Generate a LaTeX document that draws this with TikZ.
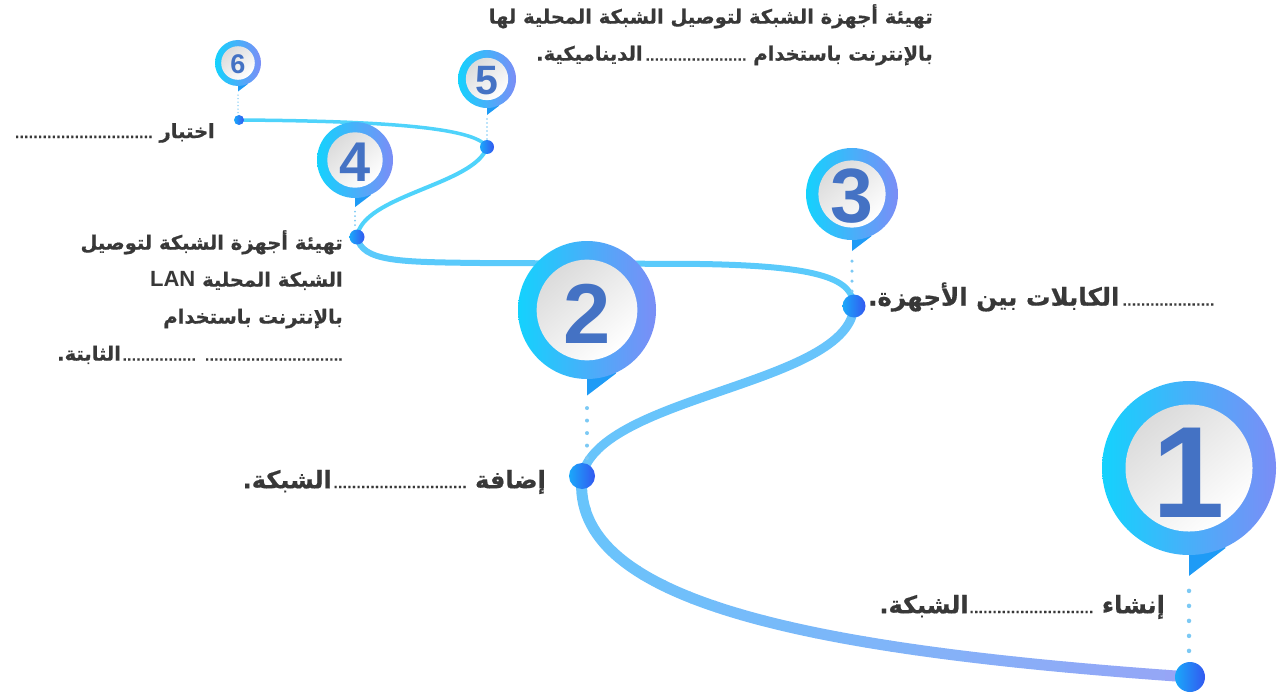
\documentclass[tikz,border=0pt]{standalone}
\usepackage{fontspec}
\setmainfont{Liberation Sans}
\newfontfamily\arabicfont{DejaVu Sans}[Script=Arabic, BoldFeatures={FakeBold=0.6}]
\TeXXeTstate=1
\usetikzlibrary{backgrounds}

\definecolor{ringL}{HTML}{14D2FD}
\definecolor{ringR}{HTML}{7B8DF6}
\definecolor{tailC}{HTML}{1E9BF6}
\definecolor{numC}{HTML}{4472C4}
\definecolor{dotL}{HTML}{1AA8FA}
\definecolor{dotR}{HTML}{3358F0}
\definecolor{pathA}{HTML}{4FD3FB}
\definecolor{pathB}{HTML}{5ACAFB}
\definecolor{pathC}{HTML}{68C4FB}
\definecolor{pathD}{HTML}{98A4F6}
\definecolor{lineC}{HTML}{7CC9F4}
\definecolor{txt}{HTML}{383838}

\newcommand\dts[1]{\hbox to #1{\fontsize{12}{12}\selectfont\leaders\hbox to 4.6pt{\hss.\hss}\hfill}}

\begin{document}
\begin{tikzpicture}[x=1pt, y=-1pt,
  dot/.style={circle, inner sep=0pt, left color=dotL, right color=dotR},
  seg/.style={line cap=round},
  num/.style={text=numC, font=\bfseries, inner sep=0pt},
  lbl/.style={text=txt, inner sep=0pt, font=\arabicfont\bfseries\fontsize{#1}{37}\selectfont},
  dotline/.style={draw=lineC, line cap=round}
]
\useasboundingbox (0,0) rectangle (1280,698);

\foreach \n/\x/\y/\s in {1/1190/677/30, 2/582/476/26, 3/854/306/23, 4/357/237/15, 5/487/147/14, 6/239/120/10}
  \node[dot, minimum size=\s] (d\n) at (\x,\y) {};

\begin{pgfonlayer}{background}
\draw[seg, line width=3.5, pathA] (d6.center) .. controls (380,121) and (475,127) .. (d5.center);
\draw[seg, line width=4, pathA] (d5.center) .. controls (475,185) and (362,195) .. (d4.center);
\draw[seg, line width=6, pathB] (d4.center) .. controls (362,262) and (400,262) .. (480,263)
  -- (700,264) .. controls (825,266) and (852,280) .. (d3.center);
\draw[seg, line width=9, pathC] (d3.center) .. controls (850,385) and (600,395) .. (d2.center);
\foreach \i in {0,...,24} {
  \pgfmathsetmacro\m{4*\i}
  \begin{scope}
    \clip (565+25*\i,420) rectangle ++(25.5,290);
    \draw[seg, line width=11, pathD!\m!pathC] (d2.center) .. controls (570,600) and (800,650) .. (d1.center);
  \end{scope}
}
\end{pgfonlayer}

\foreach \n/\cx/\cy/\r/\fs in {1/1189/468/87/130, 2/587/310/69/85, 3/852/194/46/77,
                              4/355/160/38/56, 5/487/79/29/41, 6/238/63/23/27} {
  \fill[tailC] (\cx,\cy) -- (\cx,\cy+1.24*\r) -- (\cx+0.42*\r,\cy+0.92*\r) -- cycle;
  \coordinate (t\n) at (\cx,\cy+1.24*\r);
  \shade[left color=ringL, right color=ringR] (\cx,\cy) circle[radius=\r];
  \shade[top color=black!14, bottom color=white, shading angle=40] (\cx,\cy) circle[radius=0.73*\r];
  \node[num, font=\bfseries\fontsize{\fs}{\fs}\selectfont] (p\n) at (\cx,\cy+0.05*\r) {\n};
}

\foreach \n/\w/\g in {1/4.5pt/15pt, 2/4pt/12.5pt, 3/3.5pt/10pt, 4/2pt/4.5pt, 5/1.8pt/4pt, 6/1.5pt/3.5pt}
  \draw[dotline, line width=\w, dash pattern=on 0pt off \g, shorten <=\g] (t\n) -- (t\n |- d\n.north);

\node[lbl=24, anchor=east] (l1) at (1165,607) {\beginR إنشاء \dts{125pt}الشبكة.\endR};
\node[lbl=24, anchor=east] (l2) at (546,482) {\beginR إضافة \dts{135pt}الشبكة.\endR};
\node[lbl=24.5, anchor=west] (l3) at (868,297) {\beginR\dts{95pt}الكابلات بين الأجهزة.\endR};
\node[lbl=19.5, anchor=north east, align=right] (l4) at (343,230)
  {\beginR تهيئة أجهزة الشبكة لتوصيل\endR\\
   \beginR الشبكة المحلية \beginL{\rmfamily\fontsize{22}{37}\selectfont LAN}\endL\endR\\
   \beginR بالإنترنت باستخدام\endR\\
   \beginR\dts{140pt} \dts{75pt}الثابتة.\endR};
\node[lbl=19.5, anchor=north east, align=right] (l5) at (933,4)
  {\beginR تهيئة أجهزة الشبكة لتوصيل الشبكة المحلية لها\endR\\
   \beginR بالإنترنت باستخدام \dts{104pt}الديناميكية.\endR};
\node[lbl=19.5, anchor=east] (l6) at (215,133) {\beginR اختبار \dts{140pt}\endR};

\end{tikzpicture}
\end{document}
